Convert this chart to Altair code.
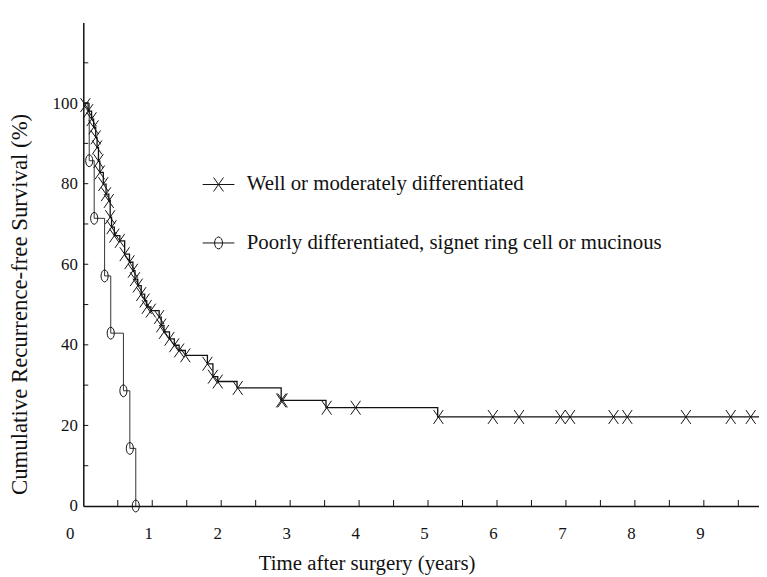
import altair as alt
import pandas as pd

# ---- data ----
# Well or moderately differentiated: Kaplan-Meier steps (years, %)
g1_time = [0, 0.07, 0.12, 0.15, 0.18, 0.20, 0.22, 0.24, 0.29, 0.33, 0.37, 0.39, 0.41, 0.45,
           0.53, 0.60, 0.67, 0.72, 0.75, 0.79, 0.84, 0.89, 0.92, 0.98, 1.10, 1.13, 1.17, 1.25,
           1.32, 1.39, 1.48, 1.80, 1.88, 1.95, 2.23, 2.87, 3.52, 5.14, 9.8]
g1_surv = [100, 98.0, 96.0, 94.0, 91.5, 89.0, 85.6, 82.8, 79.9, 77.4, 75.7, 71.7, 69.2, 67.1,
           65.8, 62.5, 60.5, 58.4, 56.3, 54.7, 52.6, 51.0, 49.4, 48.5, 46.9, 44.8, 43.2, 41.5,
           39.9, 38.6, 37.4, 35.3, 32.1, 30.9, 29.3, 26.2, 24.4, 22.1, 22.1]
# censor marks (X)
g1_cens_time = [0.03, 0.07, 0.12, 0.15, 0.18, 0.20, 0.22, 0.24, 0.29, 0.33, 0.37, 0.39, 0.41,
                0.45, 0.53, 0.60, 0.67, 0.72, 0.75, 0.79, 0.84, 0.89, 0.92, 0.98, 1.10, 1.13,
                1.17, 1.25, 1.32, 1.39, 1.48, 1.80, 1.88, 1.95, 2.24, 2.87, 2.89, 3.53, 3.95,
                5.15, 5.94, 6.32, 6.92, 7.06, 7.69, 7.89, 8.74, 9.39, 9.68]
g1_cens_surv = [99.5, 98.0, 96.0, 94.0, 91.5, 89.0, 85.6, 82.8, 79.9, 77.4, 75.7, 71.7, 69.2,
                67.1, 65.8, 62.5, 60.5, 58.4, 56.3, 54.7, 52.6, 51.0, 49.4, 48.5, 46.9, 44.8,
                43.2, 41.5, 39.9, 38.6, 37.4, 35.3, 32.1, 30.9, 29.3, 26.2, 26.2, 24.4, 24.4,
                22.1, 22.1, 22.1, 22.1, 22.1, 22.1, 22.1, 22.1, 22.1, 22.1]

# Poorly differentiated, signet ring cell or mucinous
g2_time = [0, 0.086, 0.158, 0.309, 0.398, 0.582, 0.675, 0.761]
g2_surv = [100, 85.7, 71.4, 57.1, 42.9, 28.6, 14.3, 0]

legend_labels = ["Well or moderately differentiated",
                 "Poorly differentiated, signet ring cell or mucinous"]

x_tick_labels = [0, 1, 2, 3, 4, 5, 6, 7, 8, 9]
x_minor_ticks = [0.5, 1, 1.5, 2, 2.5, 3, 3.5, 4, 4.5, 5, 5.5, 6, 6.5, 7, 7.5, 8, 8.5, 9, 9.5]
y_tick_labels = [0, 20, 40, 60, 80, 100]
y_minor_ticks = [10, 20, 30, 40, 50, 60, 70, 80, 90, 100, 110]

# ---- frames ----
g1_df = pd.DataFrame({"t": g1_time, "s": g1_surv})
g1c_df = pd.DataFrame({"t": g1_cens_time, "s": g1_cens_surv})
g2_df = pd.DataFrame({"t": g2_time, "s": g2_surv})
g2m_df = g2_df.iloc[1:].reset_index(drop=True)
xt_df = pd.DataFrame({"t": x_minor_ticks})
yt_df = pd.DataFrame({"s": y_minor_ticks})
leg_df = pd.DataFrame({"group": legend_labels})

FONT = "Liberation Serif"
INK = "#111111"
W, H = 682, 488

X_PATH = "M-0.7,-1L0.7,1M-0.7,1L0.7,-1"
O_PATH = "M-0.6,0A0.6,1,0,1,0,0.6,0A0.6,1,0,1,0,-0.6,0Z"
LEG_X = "M-1,0L1,0M-0.31,-0.44L0.31,0.44M-0.31,0.44L0.31,-0.44"
LEG_O = "M-1,0L1,0M-0.25,0A0.25,0.375,0,1,0,0.25,0A0.25,0.375,0,1,0,-0.25,0Z"

xs = alt.Scale(domain=[0, 9.8], nice=False, zero=False)
ys = alt.Scale(domain=[0, 120], nice=False)

x_axis = alt.Axis(values=x_tick_labels, format="d", title="Time after surgery (years)",
                  tickSize=0, labelPadding=20,
                  labelOffset={"condition": {"test": "datum.value == 0", "value": -18},
                               "value": -4},
                  grid=False,
                  domainColor=INK, domainWidth=1.5, labelFont=FONT, labelFontSize=17,
                  labelColor=INK, titleFont=FONT, titleFontSize=21, titleFontWeight="normal",
                  titleColor=INK, titleX=286, titleY=58, titleBaseline="middle",
                  titleAnchor="start", titleAlign="center")
y_axis = alt.Axis(values=y_tick_labels, title="Cumulative Recurrence-free Survival (%)",
                  tickSize=0, labelPadding=6, grid=False, domainColor=INK, domainWidth=1.5,
                  labelFont=FONT, labelFontSize=17, labelColor=INK, titleFont=FONT,
                  titleFontSize=23, titleFontWeight="normal", titleColor=INK,
                  titleAngle=270, titleX=-64, titleY=284, titleAlign="center",
                  titleBaseline="middle")

line1 = alt.Chart(g1_df).mark_line(interpolate="step-after", color=INK, strokeWidth=1.3).encode(
    x=alt.X("t:Q", scale=xs, axis=x_axis),
    y=alt.Y("s:Q", scale=ys, axis=y_axis),
)
line2 = alt.Chart(g2_df).mark_line(interpolate="step-after", color="#333333", strokeWidth=1).encode(
    x=alt.X("t:Q", scale=xs), y=alt.Y("s:Q", scale=ys))
cens1 = alt.Chart(g1c_df).mark_point(shape=X_PATH, size=196, filled=False, color=INK,
                                     strokeWidth=1, opacity=1).encode(
    x=alt.X("t:Q", scale=xs), y=alt.Y("s:Q", scale=ys))
mark2 = alt.Chart(g2m_df).mark_point(shape=O_PATH, size=144, filled=False, color=INK,
                                     strokeWidth=1, opacity=1).encode(
    x=alt.X("t:Q", scale=xs), y=alt.Y("s:Q", scale=ys))
xticks = alt.Chart(xt_df).mark_rule(color=INK, strokeWidth=1).encode(
    x=alt.X("t:Q", scale=xs), y=alt.value(H), y2=alt.value(H - 6))
yticks = alt.Chart(yt_df).mark_rule(color=INK, strokeWidth=1).encode(
    y=alt.Y("s:Q", scale=ys), x=alt.value(0), x2=alt.value(5))
legend = alt.Chart(leg_df).mark_point(filled=False, color=INK, size=1024, strokeWidth=1,
                                      opacity=1).encode(
    shape=alt.Shape("group:N", scale=alt.Scale(domain=legend_labels, range=[LEG_X, LEG_O]),
                    legend=alt.Legend(title=None, orient="none", legendX=120, legendY=147,
                                      padding=0, labelFont=FONT, labelFontSize=21,
                                      labelColor=INK, labelOffset=12, rowPadding=32,
                                      symbolSize=1024, symbolStrokeColor=INK,
                                      symbolStrokeWidth=1, labelLimit=600))
).transform_filter("false")

chart = alt.layer(line1, line2, cens1, mark2, xticks, yticks, legend).properties(
    width=W, height=H,
    background="white",
    autosize=alt.AutoSizeParams(type="none"),
    padding={"left": 76, "top": 12, "right": 0, "bottom": 68},
).configure_view(stroke=None)

chart.save("out.html", embed_options={"renderer": "svg", "actions": False})
